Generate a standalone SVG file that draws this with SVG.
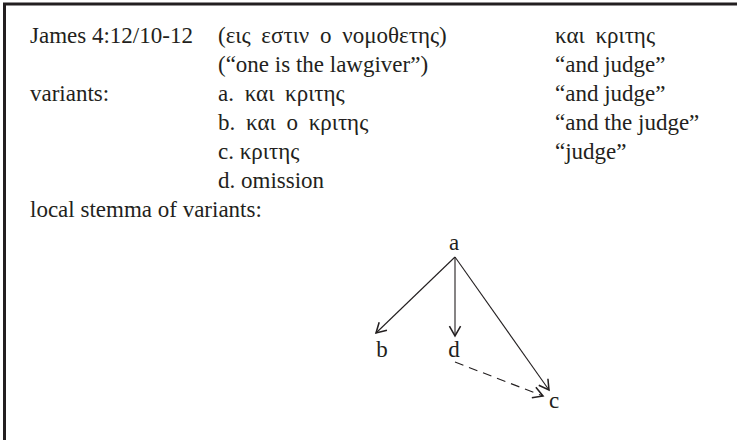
<svg xmlns="http://www.w3.org/2000/svg" width="737" height="440" viewBox="0 0 737 440">
<style>
.gr{word-spacing:5px}
.edge{stroke:#231f20;stroke-width:1.1;fill:none}
.dash{stroke-dasharray:9 6}
.node text{text-anchor:middle}
</style>
<defs>
<marker id="arr" markerUnits="userSpaceOnUse" markerWidth="14" markerHeight="14" viewBox="-8 -5 10 10" refX="0" refY="0" orient="auto">
<path d="M-7,-4 L0,0 L-7,4" fill="none" stroke="#231f20" stroke-width="1.1"/>
</marker>
</defs>
<rect width="737" height="440" fill="#ffffff"/>
<path d="M4.5,440 V4 H737" fill="none" stroke="#231f20" stroke-width="3"/>
<g font-family="'Liberation Serif', serif" font-size="23" fill="#231f20">
<g id="table">
<text x="30" y="43">James 4:12/10-12</text>
<text x="30" y="101">variants:</text>
<text x="30" y="217">local stemma of variants:</text>
<text x="218" y="43" class="gr">(εις εστιν ο νομοθετης)</text>
<text x="218" y="72">(“one is the lawgiver”)</text>
<text x="218" y="101" class="gr">a. και κριτης</text>
<text x="218" y="130" class="gr">b. και ο κριτης</text>
<text x="218" y="159">c. κριτης</text>
<text x="218" y="188">d. omission</text>
<text x="555" y="43" class="gr">και κριτης</text>
<text x="555" y="72">“and judge”</text>
<text x="555" y="101">“and judge”</text>
<text x="555" y="130">“and the judge”</text>
<text x="555" y="159">“judge”</text>
</g>
<g id="connectors">
<line class="edge" x1="455" y1="257" x2="376" y2="333" marker-end="url(#arr)"/>
<line class="edge" x1="455" y1="257" x2="455" y2="336" marker-end="url(#arr)"/>
<line class="edge" x1="455" y1="257" x2="549" y2="390" marker-end="url(#arr)"/>
<line class="edge dash" x1="455" y1="362" x2="543" y2="396" marker-end="url(#arr)"/>
</g>
<g id="node-a" class="node"><text x="454" y="250">a</text></g>
<g id="node-b" class="node"><text x="382" y="357">b</text></g>
<g id="node-d" class="node"><text x="454" y="357">d</text></g>
<g id="node-c" class="node"><text x="554" y="408">c</text></g>
</g>
</svg>
